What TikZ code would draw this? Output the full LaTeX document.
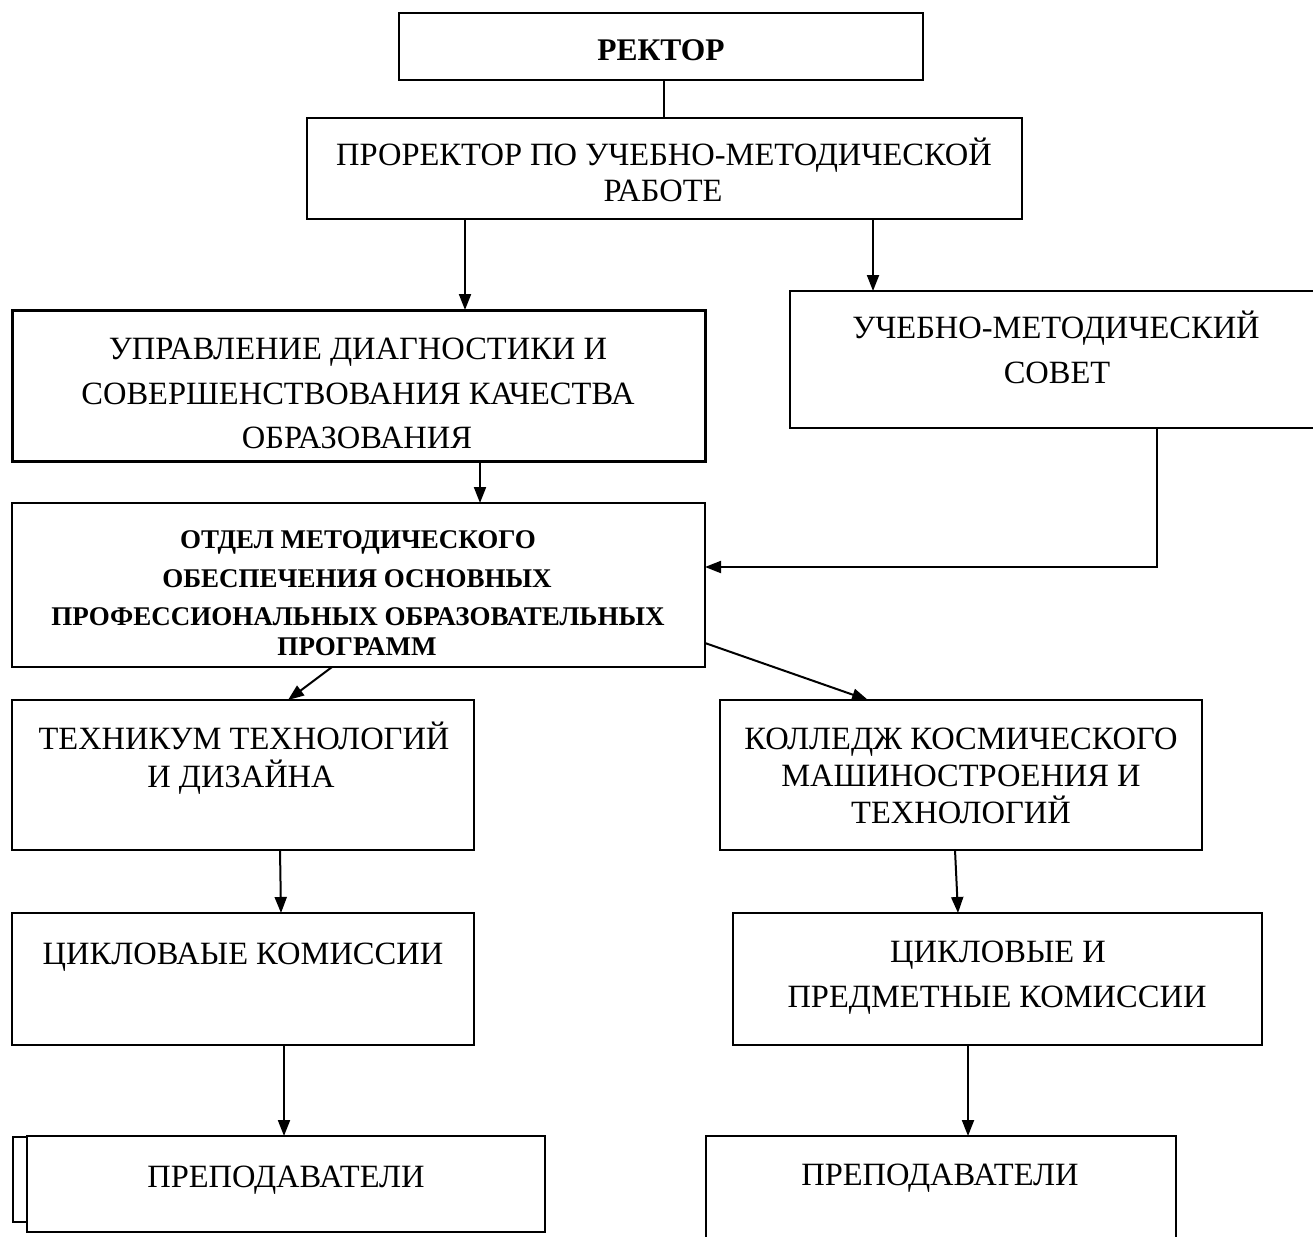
\documentclass[tikz,border=0pt]{standalone}
\usepackage{fontspec}
\setmainfont{Liberation Serif}
\usetikzlibrary{arrows.meta}
\begin{document}
\begin{tikzpicture}[x=1pt,y=-1pt,
  box/.style={draw, line width=2.5pt, fill=white, inner sep=0pt, outer sep=0pt, anchor=north west},
  ln/.style={anchor=base, inner sep=0pt, font=\fontsize{32.5}{38}\selectfont},
  bln/.style={anchor=base, inner sep=0pt, font=\fontsize{27}{31}\selectfont\bfseries},
  arr/.style={line width=2pt, -{Triangle[length=16pt,width=12pt]}},
  con/.style={line width=2pt}]
\useasboundingbox (0,0) rectangle (1313,1236);
\clip (0,0) rectangle (1313,1236);
\fill[white] (0,0) rectangle (1313,1236);

% boxes
\node[box, minimum width=524pt, minimum height=67pt] (rek) at (399,13) {};
\node[box, minimum width=715pt, minimum height=101pt] (pror) at (307,118) {};
\node[box, line width=3pt, minimum width=693pt, minimum height=151pt] (upr) at (12,310) {};
\node[box, minimum width=530pt, minimum height=137pt] (sov) at (790,291) {};
\node[box, minimum width=693pt, minimum height=164pt] (otd) at (12,503) {};
\node[box, minimum width=462pt, minimum height=150pt] (tech) at (12,700) {};
\node[box, minimum width=482pt, minimum height=150pt] (koll) at (720,700) {};
\node[box, minimum width=462pt, minimum height=132pt] (cyk1) at (12,913) {};
\node[box, minimum width=529pt, minimum height=132pt] (cyk2) at (733,913) {};
\node[box, line width=1.8pt, minimum width=40pt, minimum height=85pt] (prepb) at (13,1137) {};
\node[box, minimum width=518pt, minimum height=96pt] (prep1) at (27,1136) {};
\node[box, minimum width=470pt, minimum height=140pt] (prep2) at (706,1136) {};

% texts
\node[bln, font=\fontsize{31.5}{36}\selectfont\bfseries] (trek) at (661,61) {РЕКТОР};
\node[ln] (tpror1) at (664,165) {ПРОРЕКТОР ПО УЧЕБНО-МЕТОДИЧЕСКОЙ};
\node[ln] (tpror2) at (663,201) {РАБОТЕ};
\node[ln] (tupr1) at (358,359) {УПРАВЛЕНИЕ ДИАГНОСТИКИ И};
\node[ln] (tupr2) at (358,404) {СОВЕРШЕНСТВОВАНИЯ КАЧЕСТВА};
\node[ln] (tupr3) at (357,448) {ОБРАЗОВАНИЯ};
\node[ln] (tsov1) at (1056,338) {УЧЕБНО-МЕТОДИЧЕСКИЙ};
\node[ln] (tsov2) at (1057,383) {СОВЕТ};
\node[bln] (totd1) at (358,548) {ОТДЕЛ МЕТОДИЧЕСКОГО};
\node[bln] (totd2) at (357,587) {ОБЕСПЕЧЕНИЯ ОСНОВНЫХ};
\node[bln] (totd3) at (358,625) {ПРОФЕССИОНАЛЬНЫХ ОБРАЗОВАТЕЛЬНЫХ};
\node[bln] (totd4) at (357,655) {ПРОГРАММ};
\node[ln] (ttech1) at (244,749) {ТЕХНИКУМ ТЕХНОЛОГИЙ};
\node[ln] (ttech2) at (241,787) {И ДИЗАЙНА};
\node[ln] (tkoll1) at (961,749) {КОЛЛЕДЖ КОСМИЧЕСКОГО};
\node[ln] (tkoll2) at (961,786) {МАШИНОСТРОЕНИЯ И};
\node[ln] (tkoll3) at (961,823) {ТЕХНОЛОГИЙ};
\node[ln] (tcyk1) at (243,964) {ЦИКЛОВАЫЕ КОМИССИИ};
\node[ln] (tcyk21) at (998,962) {ЦИКЛОВЫЕ И};
\node[ln] (tcyk22) at (997,1007) {ПРЕДМЕТНЫЕ КОМИССИИ};
\node[ln] (tprep1) at (286,1187) {ПРЕПОДАВАТЕЛИ};
\node[ln] (tprep2) at (940,1185) {ПРЕПОДАВАТЕЛИ};

% helper coordinates
\coordinate (x664) at (664,0);
\coordinate (x465) at (465,0);
\coordinate (x873) at (873,0);
\coordinate (x480) at (480,0);
\coordinate (x1157) at (1157,0);
\coordinate (y567) at (0,567);
\coordinate (x332) at (332,0);
\coordinate (x288) at (288,0);
\coordinate (y643) at (0,643);
\coordinate (x868) at (868,0);
\coordinate (x280) at (280,0);
\coordinate (x281) at (281,0);
\coordinate (x955) at (955,0);
\coordinate (x958) at (958,0);
\coordinate (x284) at (284,0);
\coordinate (x968) at (968,0);

% connectors
\draw[con] (rek.south -| x664) -- (pror.north -| x664);
\draw[arr] (pror.south -| x465) -- (upr.north -| x465);
\draw[arr] (pror.south -| x873) -- (sov.north -| x873);
\draw[arr] (upr.south -| x480) -- (otd.north -| x480);
\draw[arr] (sov.south -| x1157) |- (otd.east |- y567);
\draw[arr] (otd.south -| x332) -- (tech.north -| x288);
\draw[arr] (otd.east |- y643) -- (koll.north -| x868);
\draw[arr] (tech.south -| x280) -- (cyk1.north -| x281);
\draw[arr] (koll.south -| x955) -- (cyk2.north -| x958);
\draw[arr] (cyk1.south -| x284) -- (prep1.north -| x284);
\draw[arr] (cyk2.south -| x968) -- (prep2.north -| x968);
\end{tikzpicture}
\end{document}
